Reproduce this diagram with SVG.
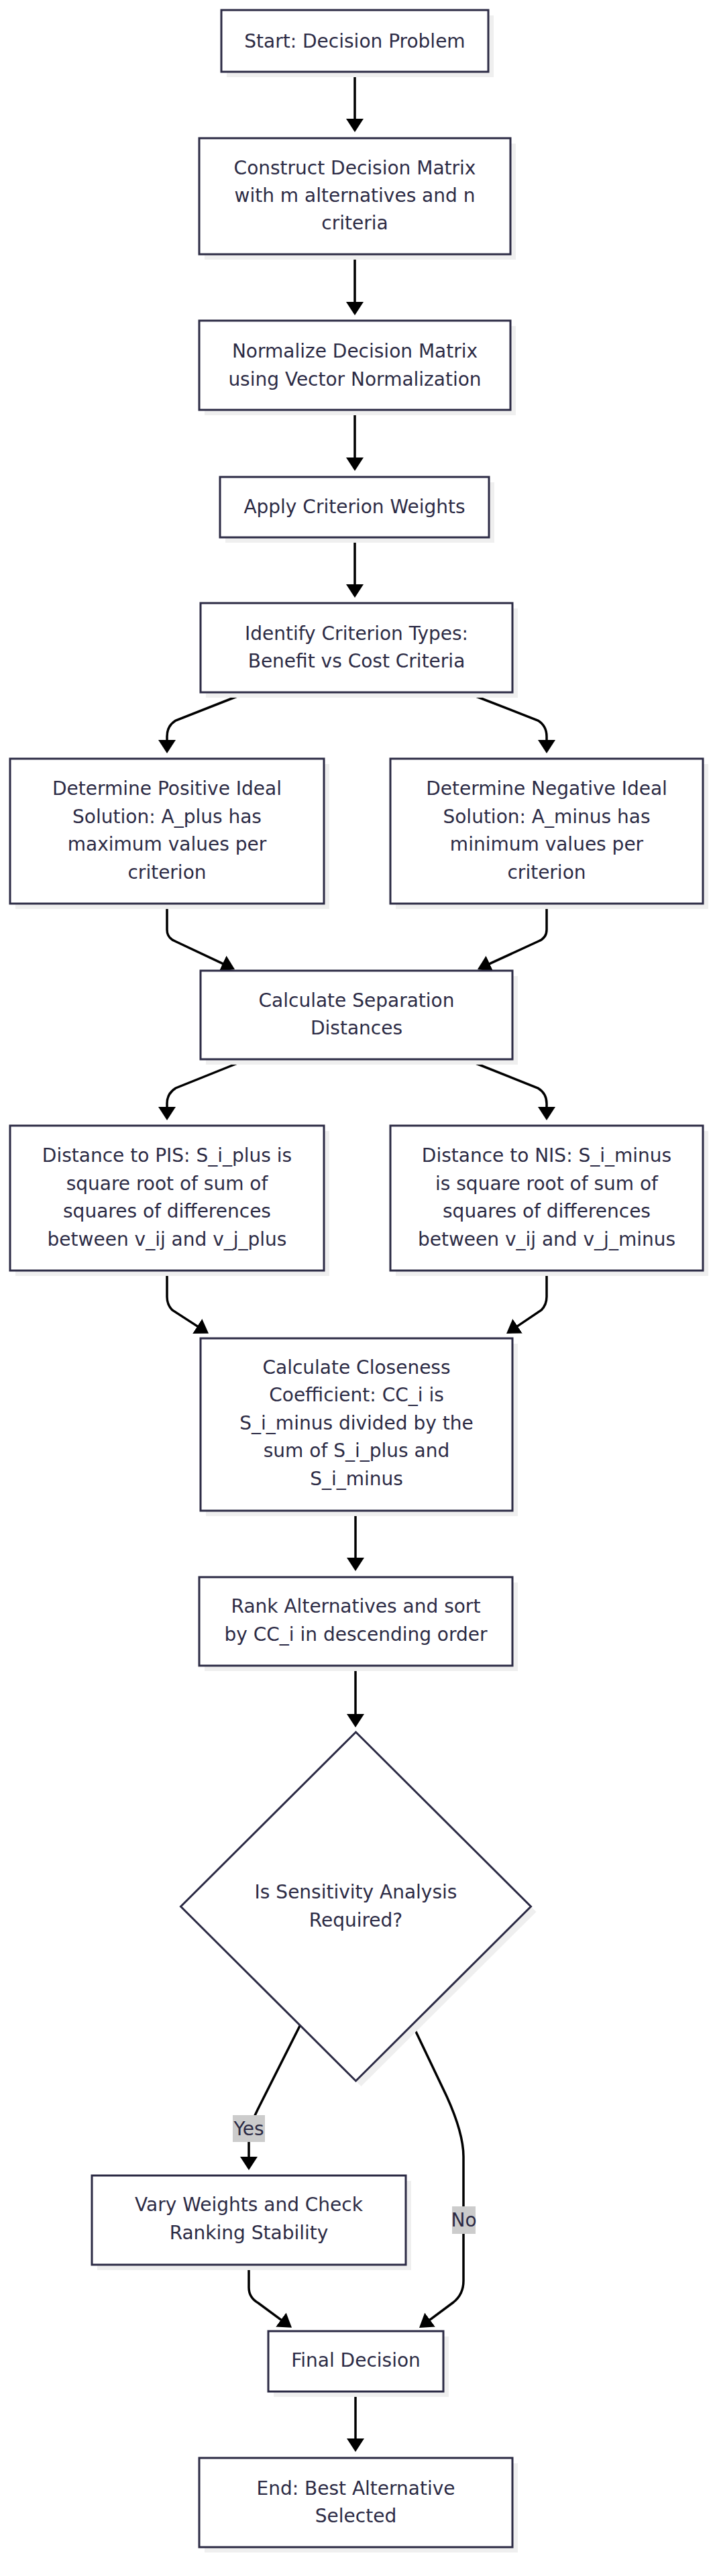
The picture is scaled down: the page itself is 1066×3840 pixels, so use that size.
<svg xmlns="http://www.w3.org/2000/svg" width="1066" height="3840" viewBox="0 0 1066 3840">
<style>
  .box{fill:#ffffff;stroke:#2c2b45;stroke-width:3}
  .shadow{fill:#efefef;stroke:none}
  .t{font-family:"DejaVu Sans",sans-serif;font-size:28px;fill:#2c2b45;text-anchor:middle}
  .edge{fill:none;stroke:#000000;stroke-width:3.5}
  .lbl{fill:#cccccc}
</style>
<defs>
  <marker id="ah" markerUnits="userSpaceOnUse" viewBox="0 0 20 26" refX="14" refY="13" markerWidth="20" markerHeight="26" orient="auto">
    <path d="M0,0 L20,13 L0,26 z" fill="#000000"/>
  </marker>
</defs>
<rect width="1066" height="3840" fill="#ffffff"/>

<g id="connectors">
  <path class="edge" marker-end="url(#ah)" d="M529,107 L529,191"/>
  <path class="edge" marker-end="url(#ah)" d="M529,379 L529,464"/>
  <path class="edge" marker-end="url(#ah)" d="M529,611 L529,696"/>
  <path class="edge" marker-end="url(#ah)" d="M529,801 L529,885"/>
  <path class="edge" marker-end="url(#ah)" d="M369,1032 L262,1074 Q249,1082 249,1098 L249,1117"/>
  <path class="edge" marker-end="url(#ah)" d="M694,1032 L802,1074 Q815,1082 815,1098 L815,1117"/>
  <path class="edge" marker-end="url(#ah)" d="M249,1347 L249,1386 Q249,1398 261,1403 L344.6,1442.4"/>
  <path class="edge" marker-end="url(#ah)" d="M815,1347 L815,1386 Q815,1398 803,1403 L717.4,1442.4"/>
  <path class="edge" marker-end="url(#ah)" d="M369,1579 L262,1622 Q249,1630 249,1645 L249,1664"/>
  <path class="edge" marker-end="url(#ah)" d="M694,1579 L802,1622 Q815,1630 815,1645 L815,1664"/>
  <path class="edge" marker-end="url(#ah)" d="M249,1894 L249,1933 Q249,1945 257,1953 L306,1984.6"/>
  <path class="edge" marker-end="url(#ah)" d="M815,1894 L815,1933 Q815,1945 807,1953 L760,1984.6"/>
  <path class="edge" marker-end="url(#ah)" d="M530,2252 L530,2336"/>
  <path class="edge" marker-end="url(#ah)" d="M530,2483 L530,2569"/>
  <path class="edge" marker-end="url(#ah)" d="M448,3018 L384,3145 Q371,3170 371,3190 L371,3229"/>
  <path class="edge" marker-end="url(#ah)" d="M615,3018 L666,3125 Q691,3180 691,3215 L691,3400 Q691,3420 676,3432 L629.8,3466.4"/>
  <path class="edge" marker-end="url(#ah)" d="M371,3376 L371,3410 Q371,3425 385,3433 L430.2,3466.3"/>
  <path class="edge" marker-end="url(#ah)" d="M530,3565 L530,3649"/>
  <g id="label-yes">
    <rect class="lbl" x="347" y="3153" width="48" height="40"/>
    <text class="t" x="371" y="3183">Yes</text>
  </g>
  <g id="label-no">
    <rect class="lbl" x="674" y="3289" width="35" height="41"/>
    <text class="t" x="691.5" y="3319">No</text>
  </g>
</g>

<g id="start">
  <rect class="shadow" x="338" y="23" width="398" height="92"/>
  <rect class="box" x="330" y="15" width="398" height="92"/>
  <text class="t" x="529" y="71">Start: Decision Problem</text>
</g>
<g id="construct">
  <rect class="shadow" x="305" y="214" width="464" height="173"/>
  <rect class="box" x="297" y="206" width="464" height="173"/>
  <text class="t" x="529" y="260">Construct Decision Matrix</text>
  <text class="t" x="529" y="301">with m alternatives and n</text>
  <text class="t" x="529" y="342">criteria</text>
</g>
<g id="normalize">
  <rect class="shadow" x="305" y="486" width="464" height="133"/>
  <rect class="box" x="297" y="478" width="464" height="133"/>
  <text class="t" x="529" y="533">Normalize Decision Matrix</text>
  <text class="t" x="529" y="575">using Vector Normalization</text>
</g>
<g id="weights">
  <rect class="shadow" x="336" y="719" width="401" height="90"/>
  <rect class="box" x="328" y="711" width="401" height="90"/>
  <text class="t" x="528.5" y="765">Apply Criterion Weights</text>
</g>
<g id="identify">
  <rect class="shadow" x="307" y="907" width="465" height="133"/>
  <rect class="box" x="299" y="899" width="465" height="133"/>
  <text class="t" x="531.5" y="954">Identify Criterion Types:</text>
  <text class="t" x="531.5" y="995">Benefit vs Cost Criteria</text>
</g>
<g id="pis">
  <rect class="shadow" x="23" y="1139" width="468" height="216"/>
  <rect class="box" x="15" y="1131" width="468" height="216"/>
  <text class="t" x="249" y="1185">Determine Positive Ideal</text>
  <text class="t" x="249" y="1227">Solution: A_plus has</text>
  <text class="t" x="249" y="1268">maximum values per</text>
  <text class="t" x="249" y="1310">criterion</text>
</g>
<g id="nis">
  <rect class="shadow" x="590" y="1139" width="466" height="216"/>
  <rect class="box" x="582" y="1131" width="466" height="216"/>
  <text class="t" x="815" y="1185">Determine Negative Ideal</text>
  <text class="t" x="815" y="1227">Solution: A_minus has</text>
  <text class="t" x="815" y="1268">minimum values per</text>
  <text class="t" x="815" y="1310">criterion</text>
</g>
<g id="separation">
  <rect class="shadow" x="307" y="1455" width="465" height="132"/>
  <rect class="box" x="299" y="1447" width="465" height="132"/>
  <text class="t" x="531.5" y="1501">Calculate Separation</text>
  <text class="t" x="531.5" y="1542">Distances</text>
</g>
<g id="dist-pis">
  <rect class="shadow" x="23" y="1686" width="468" height="216"/>
  <rect class="box" x="15" y="1678" width="468" height="216"/>
  <text class="t" x="249" y="1732">Distance to PIS: S_i_plus is</text>
  <text class="t" x="249" y="1774">square root of sum of</text>
  <text class="t" x="249" y="1815">squares of differences</text>
  <text class="t" x="249" y="1857">between v_ij and v_j_plus</text>
</g>
<g id="dist-nis">
  <rect class="shadow" x="590" y="1686" width="466" height="216"/>
  <rect class="box" x="582" y="1678" width="466" height="216"/>
  <text class="t" x="815" y="1732">Distance to NIS: S_i_minus</text>
  <text class="t" x="815" y="1774">is square root of sum of</text>
  <text class="t" x="815" y="1815">squares of differences</text>
  <text class="t" x="815" y="1857">between v_ij and v_j_minus</text>
</g>
<g id="closeness">
  <rect class="shadow" x="307" y="2003" width="465" height="257"/>
  <rect class="box" x="299" y="1995" width="465" height="257"/>
  <text class="t" x="531.5" y="2048">Calculate Closeness</text>
  <text class="t" x="531.5" y="2089">Coefficient: CC_i is</text>
  <text class="t" x="531.5" y="2131">S_i_minus divided by the</text>
  <text class="t" x="531.5" y="2172">sum of S_i_plus and</text>
  <text class="t" x="531.5" y="2214">S_i_minus</text>
</g>
<g id="rank">
  <rect class="shadow" x="305" y="2359" width="467" height="132"/>
  <rect class="box" x="297" y="2351" width="467" height="132"/>
  <text class="t" x="530.5" y="2404">Rank Alternatives and sort</text>
  <text class="t" x="530.5" y="2446">by CC_i in descending order</text>
</g>
<g id="sensitivity">
  <polygon class="shadow" points="538.5,2590 799.5,2850 538.5,3110 277.5,2850"/>
  <polygon class="box" points="530.5,2582 791.5,2842 530.5,3102 269.5,2842"/>
  <text class="t" x="530.5" y="2830">Is Sensitivity Analysis</text>
  <text class="t" x="530.5" y="2872">Required?</text>
</g>
<g id="vary">
  <rect class="shadow" x="145" y="3251" width="468" height="133"/>
  <rect class="box" x="137" y="3243" width="468" height="133"/>
  <text class="t" x="371" y="3296">Vary Weights and Check</text>
  <text class="t" x="371" y="3338">Ranking Stability</text>
</g>
<g id="final">
  <rect class="shadow" x="408" y="3483" width="261" height="90"/>
  <rect class="box" x="400" y="3475" width="261" height="90"/>
  <text class="t" x="530.5" y="3528">Final Decision</text>
</g>
<g id="end">
  <rect class="shadow" x="305" y="3672" width="467" height="133"/>
  <rect class="box" x="297" y="3664" width="467" height="133"/>
  <text class="t" x="530.5" y="3719">End: Best Alternative</text>
  <text class="t" x="530.5" y="3760">Selected</text>
</g>
</svg>
